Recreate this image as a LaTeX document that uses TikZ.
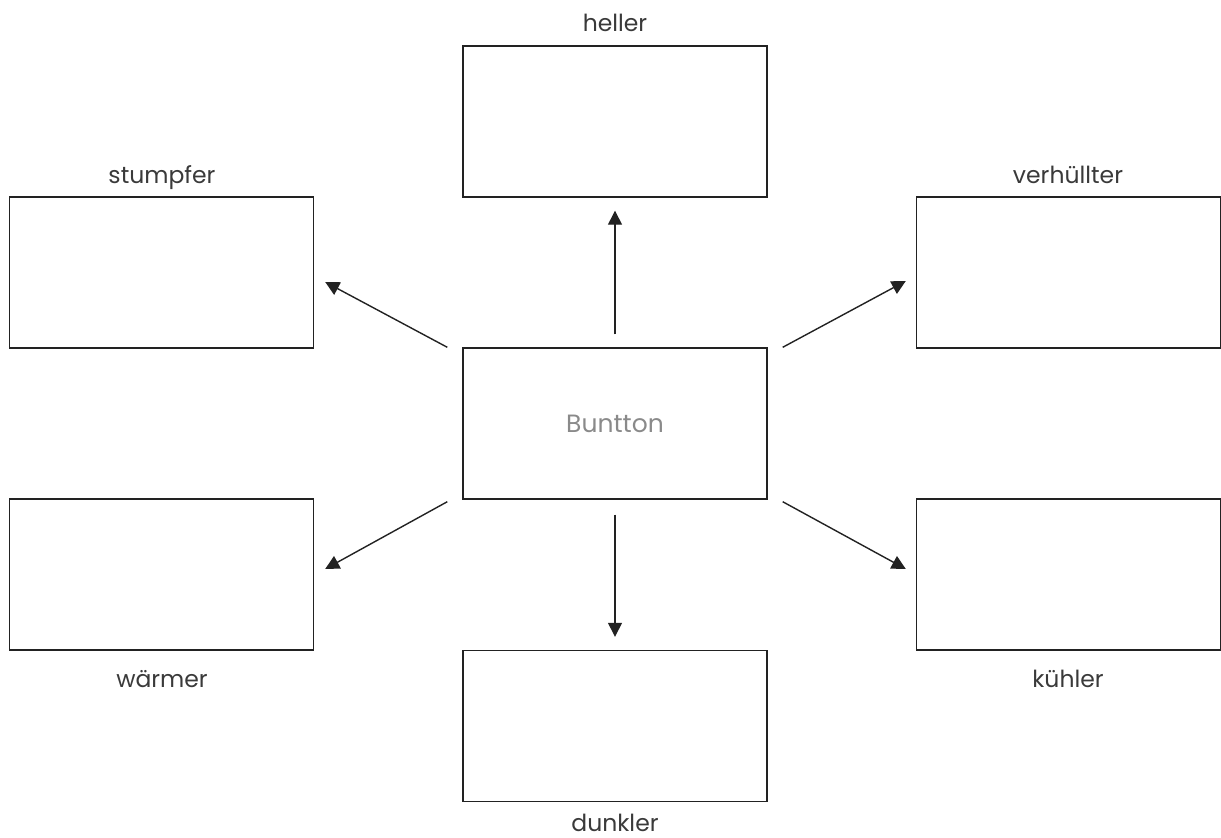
\documentclass[tikz,border=0pt]{standalone}
\usepackage{fontspec}
\setmainfont{Poppins}
\usetikzlibrary{arrows.meta}
\definecolor{txt}{HTML}{3A3A3A}
\definecolor{ln}{HTML}{222222}
\definecolor{mid}{HTML}{8A8A8A}
\tikzset{
  box/.style={draw=ln, line width=1.4pt, minimum width=304pt, minimum height=151pt, inner sep=0pt},
  lbl/.style={text=txt, font=\fontsize{23.5}{27}\selectfont, inner sep=0pt},
  arr/.style={draw=ln, line width=1.4pt, -{Triangle[length=14pt,width=14pt]}}
}
\begin{document}
\begin{tikzpicture}[x=1pt,y=-1pt]
\useasboundingbox (0,0) rectangle (1221,838);
\node[box] (h) at (615,121.5) {};
\node[box] (s) at (161.5,272.5) {};
\node[box] (v) at (1068.5,272.5) {};
\node[box] (c) at (615,423.5) {};
\node[box] (w) at (161.5,574.5) {};
\node[box] (k) at (1068.5,574.5) {};
\node[box] (d) at (615,726) {};
\node[lbl, text=mid, font=\fontsize{25}{29}\selectfont] at (c.center) {Buntton};
\node[lbl, anchor=base] (lh) at (615,31) {heller};
\node[lbl, anchor=base] (ls) at (162,183) {stumpfer};
\node[lbl, anchor=base] (lv) at (1068,183) {verhüllter};
\node[lbl, anchor=base] (lw) at (162,687) {wärmer};
\node[lbl, anchor=base] (lk) at (1068,687) {kühler};
\node[lbl, anchor=base] (ld) at (615,831) {dunkler};
\draw[arr, shorten <=13pt, shorten >=13pt] (c.north) -- (h.south);
\draw[arr, shorten <=15pt, shorten >=13pt] (c.south) -- (d.north);
\draw[arr] ([xshift=-15pt]c.north west) -- ([xshift=11pt,yshift=-9.5pt]s.east);
\draw[arr] ([xshift=15pt]c.north east) -- ([xshift=-10pt,yshift=-8.5pt]v.west);
\draw[arr] ([xshift=-15pt,yshift=-2pt]c.south west) -- ([xshift=11pt,yshift=5.5pt]w.east);
\draw[arr] ([xshift=15pt,yshift=-2pt]c.south east) -- ([xshift=-10pt,yshift=5.5pt]k.west);
\end{tikzpicture}
\end{document}
